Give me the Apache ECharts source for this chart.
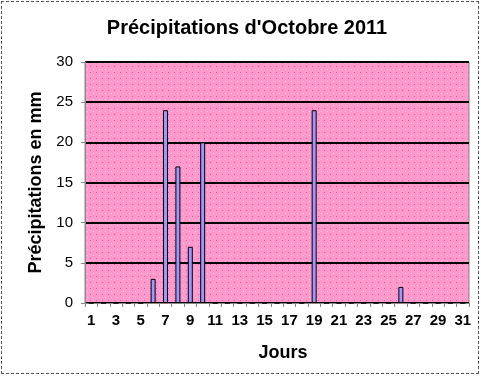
<!DOCTYPE html>
<html><head><meta charset="utf-8">
<script src="https://cdn.jsdelivr.net/npm/echarts@6/dist/echarts.min.js"></script>
<style>html,body{margin:0;padding:0;background:#fff}#c{width:481px;height:376px}
#f{position:absolute;left:1px;top:1px;width:476px;height:371px;border:1px dashed #555;pointer-events:none}</style>
</head><body><div id="c"></div><div id="f"></div>
<script>
const days = Array.from({length:31},(_,i)=>String(i+1));
const rain = [0,0,0,0,0,3,24,17,7,20,0,0,0,0,0,0,0,0,24,0,0,0,0,0,0,2,0,0,0,0,0];
const yTicks = {min:0,max:30,interval:5};

const pc = document.createElement('canvas');
pc.width = 6; pc.height = 6;
const ctx = pc.getContext('2d');
ctx.fillStyle = '#FF99CC'; ctx.fillRect(0,0,6,6);
ctx.fillStyle = '#F2559C'; ctx.fillRect(0,0,1,1);
ctx.fillStyle = '#FFC8E0'; ctx.fillRect(3,3,1,1);

const chart = echarts.init(document.getElementById('c'));
const font = 'Liberation Sans, Arial, sans-serif';
chart.setOption({
  animation:false,
  title:{text:"Précipitations d'Octobre 2011",left:242,textAlign:'center',top:13,
    textStyle:{fontFamily:font,fontSize:20,fontWeight:'bold',color:'#000'}},
  grid:{left:85,right:12,top:62,bottom:73,show:true,
    backgroundColor:{image:pc,repeat:'repeat'},borderColor:'#888',borderWidth:1},
  xAxis:{type:'category',data:days,
    name:'Jours',nameLocation:'middle',nameGap:41,
    nameTextStyle:{fontFamily:font,fontSize:18,fontWeight:'bold',color:'#000',padding:[0,0,0,12]},
    axisLine:{lineStyle:{color:'#888',width:1}},
    axisTick:{show:true,interval:0,length:4,lineStyle:{color:'#888'}},
    axisLabel:{interval:1,fontFamily:font,fontSize:15,fontWeight:'bold',color:'#000',margin:10}},
  yAxis:{type:'value',min:yTicks.min,max:yTicks.max,interval:yTicks.interval,
    name:'Précipitations en mm',nameLocation:'middle',nameGap:36,
    nameTextStyle:{fontFamily:font,fontSize:18,fontWeight:'bold',color:'#000'},
    axisLine:{show:true,lineStyle:{color:'#888'}},
    axisTick:{show:true,length:4,lineStyle:{color:'#888'}},
    axisLabel:{fontFamily:font,fontSize:15,color:'#000',margin:12},
    splitLine:{show:true,lineStyle:{color:'#000',width:2}}},
  series:[{type:'bar',data:rain,barWidth:5,
    itemStyle:{color:'#9999FF',borderColor:'#000',borderWidth:1}}]
});
</script></body></html>
